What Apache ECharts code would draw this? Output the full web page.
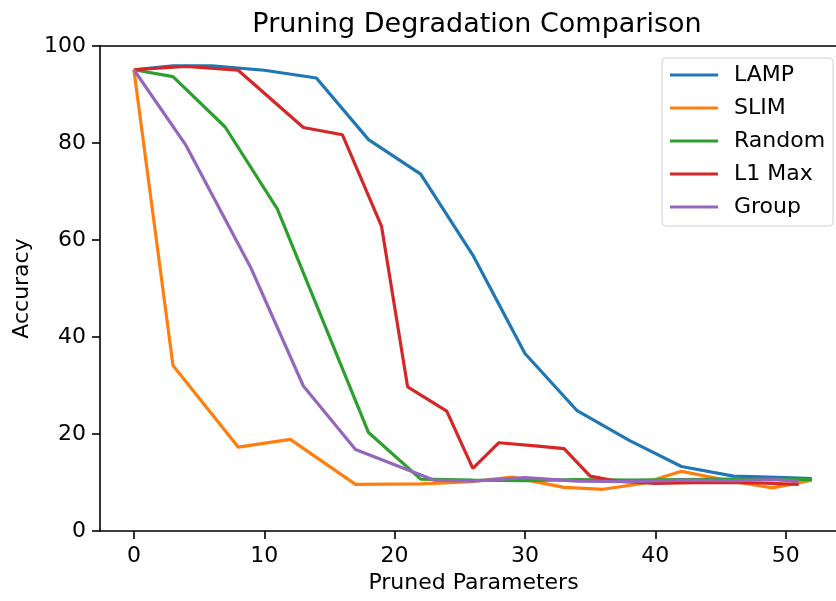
<!DOCTYPE html>
<html>
<head>
<meta charset="utf-8">
<script src="https://cdn.jsdelivr.net/npm/echarts@6/dist/echarts.min.js"></script>
<style>html,body{margin:0;padding:0;background:#fff;}#c{width:836px;height:601px;}</style>
</head>
<body>
<div id="c"></div>
<script>
const seriesNames = ['LAMP', 'SLIM', 'Random', 'L1 Max', 'Group'];
const colors = ['#1f77b4', '#ff7f0e', '#2ca02c', '#d62728', '#9467bd'];

const lampX = [0, 3, 6, 10, 14, 18, 22, 26, 30, 34, 38, 42, 46, 50, 52];
const lampY = [95.1, 95.9, 95.9, 95.0, 93.4, 80.7, 73.6, 56.9, 36.6, 24.8, 18.7, 13.3, 11.3, 11.0, 10.8];

const slimX = [0, 3, 8, 12, 17, 22, 26, 29, 33, 36, 39, 42, 46, 49, 52];
const slimY = [95.1, 34.1, 17.3, 18.9, 9.6, 9.7, 10.2, 11.1, 9.0, 8.6, 9.8, 12.3, 10.2, 8.9, 10.5];

const randomX = [0, 3, 7, 11, 18, 22, 26, 30, 34, 38, 42, 46, 50, 52];
const randomY = [95.1, 93.7, 83.3, 66.4, 20.3, 10.7, 10.5, 10.4, 10.6, 10.5, 10.6, 10.7, 10.7, 10.6];

const l1X = [0, 4, 8, 13, 16, 19, 21, 24, 26, 28, 31, 33, 35, 37, 40, 44, 48, 51];
const l1Y = [95.1, 95.8, 95.0, 83.2, 81.7, 62.8, 29.7, 24.7, 12.9, 18.2, 17.5, 17.0, 11.3, 10.3, 9.8, 10.0, 9.9, 9.6];

const groupX = [0, 4, 9, 13, 17, 23, 26, 30, 34, 38, 42, 46, 49, 51];
const groupY = [95.1, 79.5, 54.1, 29.9, 16.8, 10.5, 10.3, 11.0, 10.3, 10.2, 10.5, 10.4, 10.6, 10.3];

const xTicks = [0, 10, 20, 30, 40, 50];
const yTicks = [0, 20, 40, 60, 80, 100];

const allX = [lampX, slimX, randomX, l1X, groupX];
const allY = [lampY, slimY, randomY, l1Y, groupY];

const FONT = 'DejaVu Sans';
const chart = echarts.init(document.getElementById('c'), null, {renderer: 'canvas'});
const series = seriesNames.map((n, i) => ({
  name: n,
  type: 'line',
  xAxisIndex: 0,
  data: allX[i].map((x, j) => [x, allY[i][j]]),
  symbol: 'none',
  lineStyle: {color: colors[i], width: 3.2},
  itemStyle: {color: colors[i]},
  emphasis: {disabled: true},
  animation: false
}));

chart.setOption({
  animation: false,
  backgroundColor: '#fff',
  title: {
    text: 'Pruning Degradation Comparison',
    left: 472, textAlign: 'center', top: 6,
    textStyle: {fontFamily: FONT, fontSize: 27, fontWeight: 'normal', color: '#000'}
  },
  legend: {
    orient: 'vertical',
    left: 662, top: 58,
    data: seriesNames,
    icon: 'rect',
    itemWidth: 48, itemHeight: 3,
    itemGap: 11,
    padding: [6, 8, 8, 8],
    backgroundColor: 'rgba(255,255,255,0.8)',
    borderColor: '#d0d0d0', borderWidth: 1, borderRadius: 4,
    textStyle: {fontFamily: FONT, fontSize: 22, color: '#000', lineHeight: 22, padding: [0, 0, 0, 11]}
  },
  grid: {left: 100, top: 46, right: 0, bottom: 70, show: false},
  xAxis: [{
    type: 'value', min: -2.6, max: 53.86,
    name: 'Pruned Parameters', nameLocation: 'middle', nameGap: 38,
    nameTextStyle: {fontFamily: FONT, fontSize: 22, color: '#000', padding: [0, 0, 0, 11]},
    axisLine: {show: true, onZero: false, lineStyle: {color: '#000', width: 1.6}},
    axisTick: {show: true, inside: false, length: 8, customValues: xTicks, lineStyle: {color: '#000', width: 1.6}},
    axisLabel: {customValues: xTicks, fontFamily: FONT, fontSize: 22, color: '#000', margin: 14},
    splitLine: {show: false}
  }, {
    type: 'value', position: 'top', min: -2.6, max: 53.86,
    axisLine: {show: true, onZero: false, lineStyle: {color: '#000', width: 1.6}},
    axisTick: {show: false}, axisLabel: {show: false}, splitLine: {show: false}
  }],
  yAxis: {
    type: 'value', min: 0, max: 100, interval: 20,
    name: 'Accuracy', nameLocation: 'middle', nameGap: 66, nameRotate: 90,
    nameTextStyle: {fontFamily: FONT, fontSize: 22, color: '#000'},
    axisLine: {show: true, onZero: false, lineStyle: {color: '#000', width: 1.6}},
    axisTick: {show: true, inside: false, length: 8, lineStyle: {color: '#000', width: 1.6}},
    axisLabel: {fontFamily: FONT, fontSize: 22, color: '#000', margin: 14, showMinLabel: true, showMaxLabel: true},
    splitLine: {show: false}
  },
  series: series
});
</script>
</body>
</html>
